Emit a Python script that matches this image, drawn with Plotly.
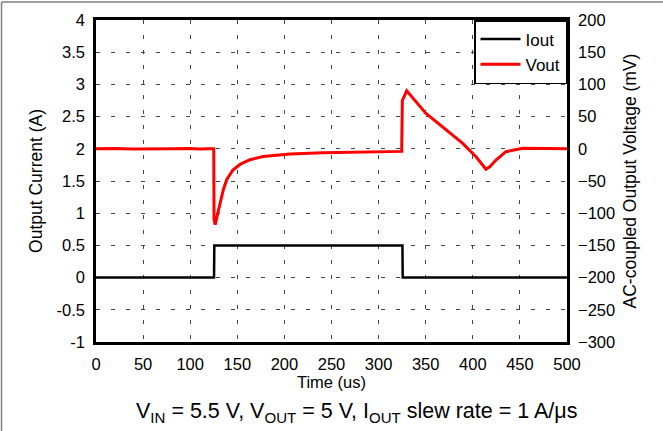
import plotly.graph_objects as go

# Data
iout_t = [0, 125.3, 125.6, 325.3, 325.6, 500]
iout_a = [0.0, 0.0, 0.5, 0.5, 0.0, 0.0]

vout_t = [0, 20, 40, 60, 80, 100, 110, 120, 125.0, 125.3, 126.5, 128.5, 131.6, 135.1, 138.7,
          145.4, 152.9, 163.5, 177.3, 206, 241, 277, 300, 322.7, 324.5, 325.2, 329.8,
          350.3, 371.5, 389.3, 403.4, 411, 414, 418, 424.6, 435.2, 453, 480, 500]
vout_mv = [0, 0.5, -0.5, 0.3, 0, 0.4, -0.3, 0.2, 0, -110, -118, -105, -84, -64, -48,
           -33, -24, -17, -12, -8, -6, -5, -4.5, -3.5, -4, 75, 90,
           55, 29, 8.5, -12.3, -27, -31.8, -28, -17.4, -4.5, 0.8, 0.3, 0]

FONT = "Liberation Sans, Arial, sans-serif"

fig = go.Figure()
fig.add_trace(go.Scatter(x=iout_t, y=iout_a, name="Iout", mode="lines",
                         line=dict(color="black", width=2.5), yaxis="y"))
fig.add_trace(go.Scatter(x=vout_t, y=vout_mv, name="Vout", mode="lines",
                         line=dict(color="red", width=3), yaxis="y2"))

grid = dict(showgrid=True, gridcolor="#444444", gridwidth=1, griddash="4px,11px")
tk = dict(ticks="outside", ticklen=5, tickcolor="rgba(0,0,0,0)", tickfont=dict(size=16.5))

fig.update_layout(
    width=663, height=431,
    margin=dict(l=96, r=96, t=20, b=89),
    paper_bgcolor="white", plot_bgcolor="white",
    font=dict(family=FONT, size=16, color="black"),
    showlegend=True,
    legend=dict(x=1, xanchor="right", y=1, yanchor="top",
                bordercolor="black", borderwidth=1.5, bgcolor="white",
                font=dict(size=17), tracegroupgap=0, itemwidth=40),
    xaxis=dict(range=[0, 500], tickvals=list(range(0, 501, 50)),
               showline=True, linecolor="black", linewidth=2.5, mirror=True,
               zeroline=False,
               title=dict(text="Time (us)", font=dict(size=16.5), standoff=2),
               **grid, **tk),
    yaxis=dict(range=[-1, 4], tickvals=[-1, -0.5, 0, 0.5, 1, 1.5, 2, 2.5, 3, 3.5, 4],
               ticktext=["-1", "-0.5", "0", "0.5", "1", "1.5", "2", "2.5", "3", "3.5", "4"],
               showline=True, linecolor="black", linewidth=2.5,
               zeroline=False,
               title=dict(text="Output Current (A)", font=dict(size=17.5), standoff=10),
               **grid, **tk),
    yaxis2=dict(range=[-300, 200], tickvals=list(range(-300, 201, 50)),
                overlaying="y", side="right",
                showline=True, linecolor="black", linewidth=2.5,
                zeroline=False, showgrid=False,
                title=dict(text="AC-coupled Output Voltage (mV)", font=dict(size=17.5), standoff=10),
                **tk),
    annotations=[dict(
        text="V<sub>IN</sub> = 5.5 V, V<sub>OUT</sub> = 5 V, I<sub>OUT</sub> slew rate = 1 A/μs",
        xref="paper", yref="paper", x=(356 - 96) / 471, y=(342 - 412) / 322,
        xanchor="center", yanchor="middle",
        showarrow=False, font=dict(size=21.5))],
    shapes=[
        dict(type="line", xref="paper", yref="paper", x0=-0.2006, x1=-0.2006, y0=-0.4, y1=1.056,
             line=dict(color="#808080", width=1.5)),
        dict(type="line", xref="paper", yref="paper", x0=-0.2006, x1=1.3, y0=1.056, y1=1.056,
             line=dict(color="#808080", width=1.5)),
    ],
)

fig.write_html("out.html", config={"displayModeBar": False},
               post_script="document.body.style.margin='0px';")
